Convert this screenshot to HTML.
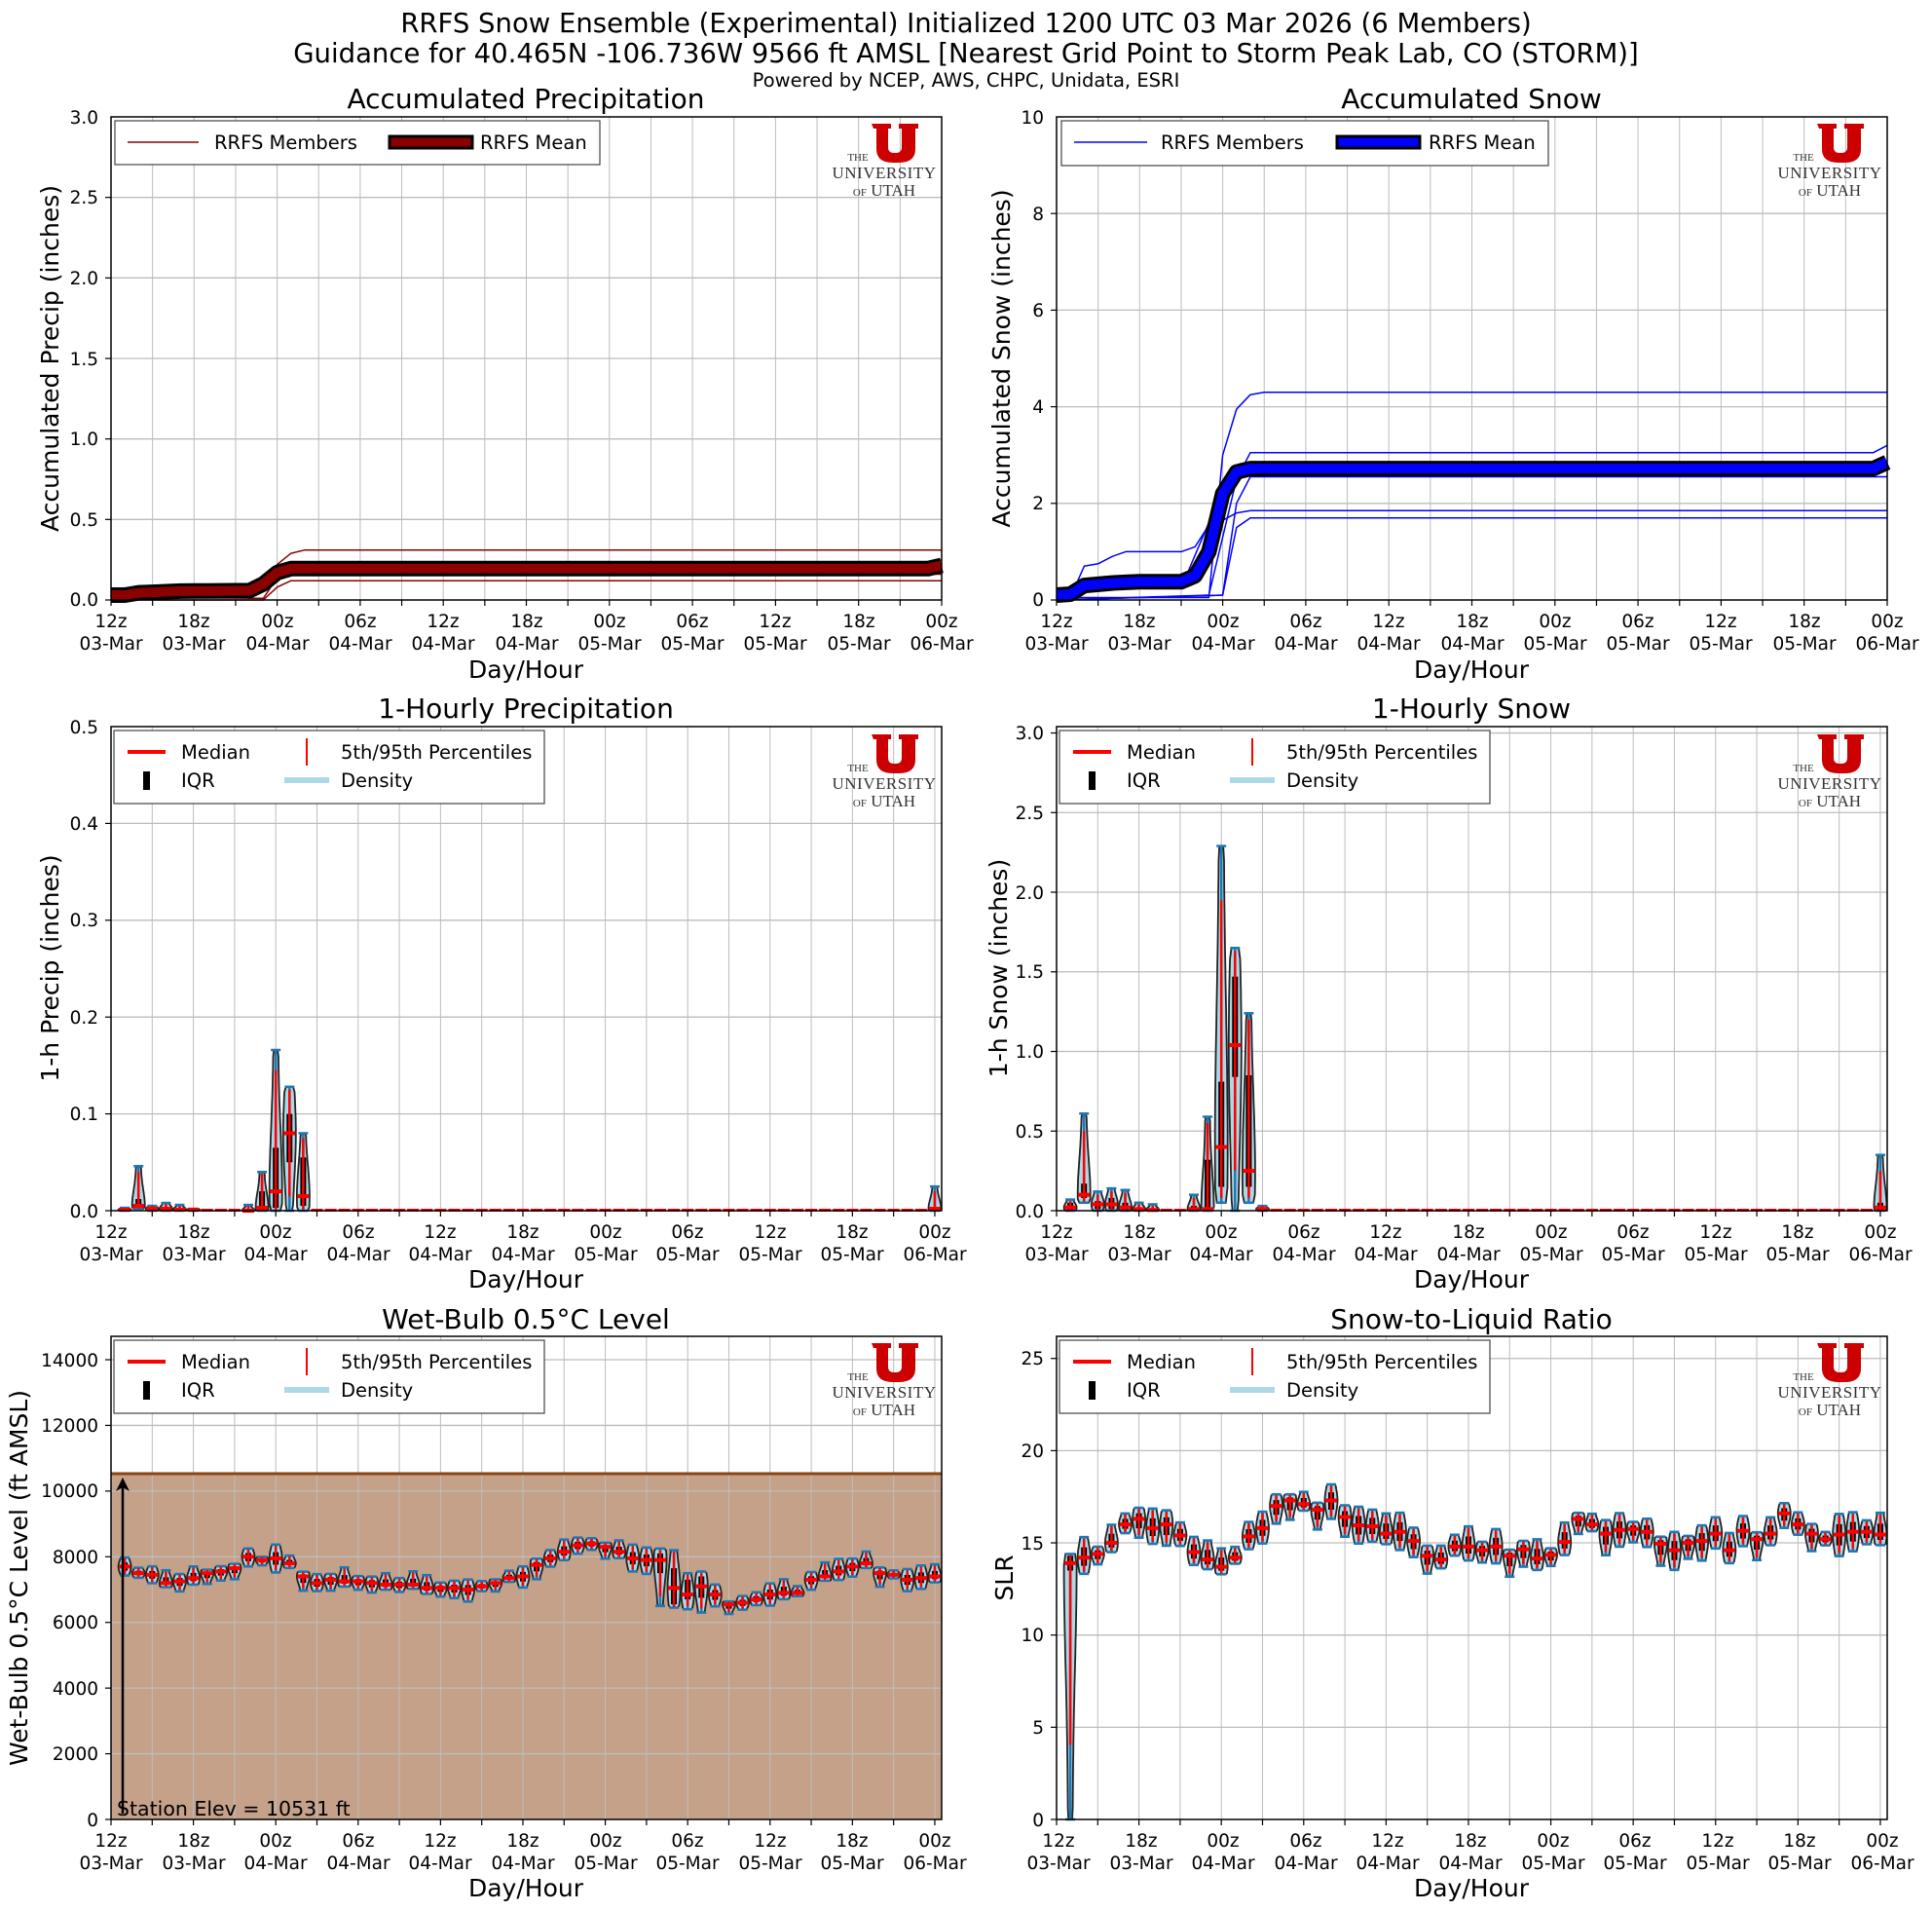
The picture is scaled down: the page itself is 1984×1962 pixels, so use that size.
<!DOCTYPE html>
<html><head><meta charset="utf-8"><style>
html,body{margin:0;padding:0;background:#fff;}
svg{display:block;}
text{font-family:"DejaVu Sans","Liberation Sans",sans-serif;fill:#000;}
.tk{font-size:18.5px;text-anchor:middle;}
.yt{font-size:18.5px;text-anchor:end;}
.ttl{font-size:28px;text-anchor:middle;}
.sup{font-size:27.5px;text-anchor:middle;}
.xl{font-size:25px;text-anchor:middle;}
.lg{font-size:19.5px;}
.lo{font-family:"Liberation Serif","DejaVu Serif",serif;fill:#333;text-anchor:middle;}
</style></head><body>
<svg id="s" width="1984" height="1962" viewBox="0 0 1984 1962" xmlns="http://www.w3.org/2000/svg">
<rect width="1984" height="1962" fill="#fff"/>
<g id="bg"></g><g id="grid"></g><g id="data"></g><g id="frames"></g>

<text class="sup" x="992" y="33">RRFS Snow Ensemble (Experimental) Initialized 1200 UTC 03 Mar 2026 (6 Members)</text>
<text class="sup" x="992" y="64">Guidance for 40.465N -106.736W 9566 ft AMSL [Nearest Grid Point to Storm Peak Lab, CO (STORM)]</text>
<text x="992" y="89" style="font-size:19.5px;text-anchor:middle">Powered by NCEP, AWS, CHPC, Unidata, ESRI</text>

<text class="ttl" x="540" y="111">Accumulated Precipitation</text>
<text class="ttl" x="1511" y="111">Accumulated Snow</text>
<text class="ttl" x="540" y="737">1-Hourly Precipitation</text>
<text class="ttl" x="1511" y="737">1-Hourly Snow</text>
<text class="ttl" x="540" y="1364">Wet-Bulb 0.5°C Level</text>
<text class="ttl" x="1511" y="1364">Snow-to-Liquid Ratio</text>

<text class="xl" x="540" y="696">Day/Hour</text>
<text class="xl" x="1511" y="696">Day/Hour</text>
<text class="xl" x="540" y="1322">Day/Hour</text>
<text class="xl" x="1511" y="1322">Day/Hour</text>
<text class="xl" x="540" y="1947">Day/Hour</text>
<text class="xl" x="1511" y="1947">Day/Hour</text>

<text class="xl" transform="translate(60,368) rotate(-90)">Accumulated Precip (inches)</text>
<text class="xl" transform="translate(1037,368) rotate(-90)">Accumulated Snow (inches)</text>
<text class="xl" transform="translate(60,994) rotate(-90)">1-h Precip (inches)</text>
<text class="xl" transform="translate(1034,994) rotate(-90)">1-h Snow (inches)</text>
<text class="xl" transform="translate(28,1620) rotate(-90)">Wet-Bulb 0.5°C Level (ft AMSL)</text>
<text class="xl" transform="translate(1040,1620) rotate(-90)">SLR</text>

<g>
<text class="yt" x="101" y="622">0.0</text><text class="yt" x="101" y="540">0.5</text><text class="yt" x="101" y="457">1.0</text><text class="yt" x="101" y="375">1.5</text><text class="yt" x="101" y="292">2.0</text><text class="yt" x="101" y="209">2.5</text><text class="yt" x="101" y="127">3.0</text>
<text class="yt" x="1072" y="622">0</text><text class="yt" x="1072" y="523">2</text><text class="yt" x="1072" y="424">4</text><text class="yt" x="1072" y="325">6</text><text class="yt" x="1072" y="226">8</text><text class="yt" x="1072" y="127">10</text>
<text class="yt" x="101" y="1250">0.0</text><text class="yt" x="101" y="1150">0.1</text><text class="yt" x="101" y="1051">0.2</text><text class="yt" x="101" y="951">0.3</text><text class="yt" x="101" y="852">0.4</text><text class="yt" x="101" y="753">0.5</text>
<text class="yt" x="1072" y="1250">0.0</text><text class="yt" x="1072" y="1168">0.5</text><text class="yt" x="1072" y="1086">1.0</text><text class="yt" x="1072" y="1004">1.5</text><text class="yt" x="1072" y="923">2.0</text><text class="yt" x="1072" y="841">2.5</text><text class="yt" x="1072" y="759">3.0</text>
<text class="yt" x="101" y="1875">0</text><text class="yt" x="101" y="1807">2000</text><text class="yt" x="101" y="1740">4000</text><text class="yt" x="101" y="1672">6000</text><text class="yt" x="101" y="1605">8000</text><text class="yt" x="101" y="1537">10000</text><text class="yt" x="101" y="1470">12000</text><text class="yt" x="101" y="1403">14000</text>
<text class="yt" x="1072" y="1875">0</text><text class="yt" x="1072" y="1780">5</text><text class="yt" x="1072" y="1685">10</text><text class="yt" x="1072" y="1591">15</text><text class="yt" x="1072" y="1496">20</text><text class="yt" x="1072" y="1401">25</text>
</g>

<g>
<text class="tk" x="114" y="644">12z</text><text class="tk" x="114" y="667">03-Mar</text>
<text class="tk" x="199" y="644">18z</text><text class="tk" x="199" y="667">03-Mar</text>
<text class="tk" x="285" y="644">00z</text><text class="tk" x="285" y="667">04-Mar</text>
<text class="tk" x="370" y="644">06z</text><text class="tk" x="370" y="667">04-Mar</text>
<text class="tk" x="455" y="644">12z</text><text class="tk" x="455" y="667">04-Mar</text>
<text class="tk" x="541" y="644">18z</text><text class="tk" x="541" y="667">04-Mar</text>
<text class="tk" x="626" y="644">00z</text><text class="tk" x="626" y="667">05-Mar</text>
<text class="tk" x="711" y="644">06z</text><text class="tk" x="711" y="667">05-Mar</text>
<text class="tk" x="796" y="644">12z</text><text class="tk" x="796" y="667">05-Mar</text>
<text class="tk" x="882" y="644">18z</text><text class="tk" x="882" y="667">05-Mar</text>
<text class="tk" x="967" y="644">00z</text><text class="tk" x="967" y="667">06-Mar</text>
</g>
<g transform="translate(971,0)">
<text class="tk" x="114" y="644">12z</text><text class="tk" x="114" y="667">03-Mar</text>
<text class="tk" x="199" y="644">18z</text><text class="tk" x="199" y="667">03-Mar</text>
<text class="tk" x="285" y="644">00z</text><text class="tk" x="285" y="667">04-Mar</text>
<text class="tk" x="370" y="644">06z</text><text class="tk" x="370" y="667">04-Mar</text>
<text class="tk" x="455" y="644">12z</text><text class="tk" x="455" y="667">04-Mar</text>
<text class="tk" x="541" y="644">18z</text><text class="tk" x="541" y="667">04-Mar</text>
<text class="tk" x="626" y="644">00z</text><text class="tk" x="626" y="667">05-Mar</text>
<text class="tk" x="711" y="644">06z</text><text class="tk" x="711" y="667">05-Mar</text>
<text class="tk" x="796" y="644">12z</text><text class="tk" x="796" y="667">05-Mar</text>
<text class="tk" x="882" y="644">18z</text><text class="tk" x="882" y="667">05-Mar</text>
<text class="tk" x="967" y="644">00z</text><text class="tk" x="967" y="667">06-Mar</text>
</g>
<g transform="translate(0,627)">
<text class="tk" x="114" y="644">12z</text><text class="tk" x="114" y="667">03-Mar</text>
<text class="tk" x="199" y="644">18z</text><text class="tk" x="199" y="667">03-Mar</text>
<text class="tk" x="283" y="644">00z</text><text class="tk" x="283" y="667">04-Mar</text>
<text class="tk" x="368" y="644">06z</text><text class="tk" x="368" y="667">04-Mar</text>
<text class="tk" x="452" y="644">12z</text><text class="tk" x="452" y="667">04-Mar</text>
<text class="tk" x="537" y="644">18z</text><text class="tk" x="537" y="667">04-Mar</text>
<text class="tk" x="622" y="644">00z</text><text class="tk" x="622" y="667">05-Mar</text>
<text class="tk" x="706" y="644">06z</text><text class="tk" x="706" y="667">05-Mar</text>
<text class="tk" x="791" y="644">12z</text><text class="tk" x="791" y="667">05-Mar</text>
<text class="tk" x="875" y="644">18z</text><text class="tk" x="875" y="667">05-Mar</text>
<text class="tk" x="960" y="644">00z</text><text class="tk" x="960" y="667">06-Mar</text>
</g>
<g transform="translate(971,627)">
<text class="tk" x="114" y="644">12z</text><text class="tk" x="114" y="667">03-Mar</text>
<text class="tk" x="199" y="644">18z</text><text class="tk" x="199" y="667">03-Mar</text>
<text class="tk" x="283" y="644">00z</text><text class="tk" x="283" y="667">04-Mar</text>
<text class="tk" x="368" y="644">06z</text><text class="tk" x="368" y="667">04-Mar</text>
<text class="tk" x="452" y="644">12z</text><text class="tk" x="452" y="667">04-Mar</text>
<text class="tk" x="537" y="644">18z</text><text class="tk" x="537" y="667">04-Mar</text>
<text class="tk" x="622" y="644">00z</text><text class="tk" x="622" y="667">05-Mar</text>
<text class="tk" x="706" y="644">06z</text><text class="tk" x="706" y="667">05-Mar</text>
<text class="tk" x="791" y="644">12z</text><text class="tk" x="791" y="667">05-Mar</text>
<text class="tk" x="875" y="644">18z</text><text class="tk" x="875" y="667">05-Mar</text>
<text class="tk" x="960" y="644">00z</text><text class="tk" x="960" y="667">06-Mar</text>
</g>
<g transform="translate(0,1252)">
<text class="tk" x="114" y="644">12z</text><text class="tk" x="114" y="667">03-Mar</text>
<text class="tk" x="199" y="644">18z</text><text class="tk" x="199" y="667">03-Mar</text>
<text class="tk" x="283" y="644">00z</text><text class="tk" x="283" y="667">04-Mar</text>
<text class="tk" x="368" y="644">06z</text><text class="tk" x="368" y="667">04-Mar</text>
<text class="tk" x="452" y="644">12z</text><text class="tk" x="452" y="667">04-Mar</text>
<text class="tk" x="537" y="644">18z</text><text class="tk" x="537" y="667">04-Mar</text>
<text class="tk" x="622" y="644">00z</text><text class="tk" x="622" y="667">05-Mar</text>
<text class="tk" x="706" y="644">06z</text><text class="tk" x="706" y="667">05-Mar</text>
<text class="tk" x="791" y="644">12z</text><text class="tk" x="791" y="667">05-Mar</text>
<text class="tk" x="875" y="644">18z</text><text class="tk" x="875" y="667">05-Mar</text>
<text class="tk" x="960" y="644">00z</text><text class="tk" x="960" y="667">06-Mar</text>
</g>
<g transform="translate(971,1252)">
<text class="tk" x="116" y="644">12z</text><text class="tk" x="116" y="667">03-Mar</text>
<text class="tk" x="201" y="644">18z</text><text class="tk" x="201" y="667">03-Mar</text>
<text class="tk" x="285" y="644">00z</text><text class="tk" x="285" y="667">04-Mar</text>
<text class="tk" x="370" y="644">06z</text><text class="tk" x="370" y="667">04-Mar</text>
<text class="tk" x="454" y="644">12z</text><text class="tk" x="454" y="667">04-Mar</text>
<text class="tk" x="539" y="644">18z</text><text class="tk" x="539" y="667">04-Mar</text>
<text class="tk" x="624" y="644">00z</text><text class="tk" x="624" y="667">05-Mar</text>
<text class="tk" x="708" y="644">06z</text><text class="tk" x="708" y="667">05-Mar</text>
<text class="tk" x="793" y="644">12z</text><text class="tk" x="793" y="667">05-Mar</text>
<text class="tk" x="877" y="644">18z</text><text class="tk" x="877" y="667">05-Mar</text>
<text class="tk" x="962" y="644">00z</text><text class="tk" x="962" y="667">06-Mar</text>
</g>

<line x1="126" y1="1862" x2="126" y2="1525" stroke="#000" stroke-width="2.5"/>
<path d="M126,1517 L119,1531 L126,1527 L133,1531 Z" fill="#000"/>
<text x="120" y="1864" style="font-size:20.5px">Station Elev = 10531 ft</text>

<rect x="118" y="124" width="498" height="45" fill="#fff" stroke="#444" stroke-width="1.2"/>
<line x1="131" y1="146" x2="204" y2="146" stroke="#8b0000" stroke-width="1.5"/>
<text class="lg" x="220" y="153">RRFS Members</text>
<rect x="400" y="140" width="85" height="12" fill="#8b0000" stroke="#000" stroke-width="3"/>
<text class="lg" x="493" y="153">RRFS Mean</text>

<rect x="1090" y="124" width="500" height="46" fill="#fff" stroke="#444" stroke-width="1.2"/>
<line x1="1103" y1="146" x2="1178" y2="146" stroke="#0000ff" stroke-width="1.5"/>
<text class="lg" x="1192" y="153">RRFS Members</text>
<rect x="1373" y="140" width="85" height="12" fill="#0000ff" stroke="#000" stroke-width="3"/>
<text class="lg" x="1467" y="153">RRFS Mean</text>

<g id="vleg">
<rect x="117" y="1376" width="442" height="75" fill="#fff" stroke="#444" stroke-width="1.2"/>
<line x1="131" y1="1398" x2="170" y2="1398" stroke="#ff0000" stroke-width="4"/>
<text class="lg" x="186" y="1405">Median</text>
<line x1="315" y1="1384" x2="315" y2="1412" stroke="#ff0000" stroke-width="2"/>
<text class="lg" x="350" y="1405">5th/95th Percentiles</text>
<rect x="147" y="1418" width="7" height="19" fill="#000"/>
<text class="lg" x="186" y="1434">IQR</text>
<line x1="292" y1="1427" x2="338" y2="1427" stroke="#add8e6" stroke-width="6"/>
<text class="lg" x="350" y="1434">Density</text>
</g>
<use href="#vleg" transform="translate(971,0)"/>
<use href="#vleg" transform="translate(0,-626)"/>
<use href="#vleg" transform="translate(971,-626)"/>

<g id="logo" transform="translate(967,120)">
<path d="M-72,7 h20 v5 h-3 v19 q0,6 6,6 h2 q6,0 6,-6 v-19 h-3 v-5 h20 v5 h-3 v21 q0,14 -17,14 h-6 q-17,0 -17,-14 v-21 h-3 z" fill="#cc0000"/>
<text class="lo" x="-86" y="45" style="font-size:11px">THE</text>
<text class="lo" x="-59" y="63" style="font-size:17px;letter-spacing:0.5px">UNIVERSITY</text>
<text class="lo" x="-59" y="81" style="font-size:17px"><tspan style="font-size:11px">OF</tspan> UTAH</text>
</g>
<use href="#logo" transform="translate(971,0)"/>
<use href="#logo" transform="translate(0,627)"/>
<use href="#logo" transform="translate(971,627)"/>
<use href="#logo" transform="translate(0,1252)"/>
<use href="#logo" transform="translate(971,1252)"/>
</svg>
<script>
(function(){
var NS="http://www.w3.org/2000/svg";
function el(g,t,a){var e=document.createElementNS(NS,t);for(var k in a)e.setAttribute(k,a[k]);document.getElementById(g).appendChild(e);return e;}
function P(x0,x1,y0,y1,hmax,vmax,yt){return {x0:x0,x1:x1,y0:y0,y1:y1,X:function(h){return x0+h/hmax*(x1-x0);},Y:function(v){return y1-v/vmax*(y1-y0);},hmax:hmax,yt:yt};}
var TL=P(114,967,120,616,60,3,[0.5,1,1.5,2,2.5]);
var TR=P(1085,1938,120,616,60,10,[2,4,6,8]);
var ML=P(114,967,746,1243,60.5,0.5,[0.1,0.2,0.3,0.4]);
var MR=P(1085,1938,746,1243,60.5,3.04,[0.5,1,1.5,2,2.5,3]);
var BL=P(114,967,1372,1868,60.5,14712,[2000,4000,6000,8000,10000,12000,14000]);
var BR=P(1085,1938,1372,1868,60.5,26.2,[5,10,15,20,25]);
var all=[TL,TR,ML,MR,BL,BR];
el("bg","rect",{x:114,y:BL.Y(10531),width:853,height:1868-BL.Y(10531),fill:"#c5a189"});
all.forEach(function(p){
  for(var h=3;h<=60;h+=3){var x=p.X(h);if(x<p.x1-1)el("grid","line",{x1:x,x2:x,y1:p.y0,y2:p.y1,stroke:"#bdbdbd","stroke-width":1});}
  p.yt.forEach(function(v){var y=p.Y(v);el("grid","line",{x1:p.x0,x2:p.x1,y1:y,y2:y,stroke:"#bdbdbd","stroke-width":1.3});});
  for(var h=0;h<=60;h+=3){var x=p.X(h);el("frames","line",{x1:x,x2:x,y1:p.y1,y2:p.y1+6,stroke:"#000","stroke-width":1.2});}
  [0].concat(p.yt).forEach(function(v){var y=p.Y(v);el("frames","line",{x1:p.x0-6,x2:p.x0,y1:y,y2:y,stroke:"#000","stroke-width":1.2});});
  el("frames","rect",{x:p.x0,y:p.y0,width:p.x1-p.x0,height:p.y1-p.y0,fill:"none",stroke:"#000","stroke-width":1.5});
});
el("data","line",{x1:114,x2:967,y1:BL.Y(10531),y2:BL.Y(10531),stroke:"#8b4513","stroke-width":3});
function interp(pts,h){for(var i=0;i<pts.length-1;i++){if(h>=pts[i][0]&&h<=pts[i+1][0]){var t=(h-pts[i][0])/(pts[i+1][0]-pts[i][0]||1);return pts[i][1]+t*(pts[i+1][1]-pts[i][1]);}}return pts[pts.length-1][1];}
function line(p,pts,c,w){var d="";for(var h=0;h<=60;h++){d+=(h?"L":"M")+p.X(h).toFixed(1)+","+p.Y(interp(pts,h)).toFixed(1);}
  el("data","path",{d:d,fill:"none",stroke:c,"stroke-width":w,"stroke-linejoin":"round"});}
var tm=[[[0,.04],[2,.05],[4,.06],[10,.07],[11,.12],[12,.22],[13,.29],[14,.31],[60,.31]],
[[0,0],[11,0],[12,.08],[13,.12],[60,.12]],
[[0,.03],[10,.05],[12,.17],[13,.2],[60,.2]],
[[0,.02],[10,.04],[11,.12],[12,.2],[13,.22],[59,.22],[60,.25]],
[[0,.02],[11,.01],[12,.14],[13,.16],[60,.16]],
[[0,.03],[10,.06],[12,.18],[13,.21],[60,.21]]];
tm.forEach(function(m){line(TL,m,"#8b0000",1.5);});
var tmean=[[0,.03],[1,.03],[2,.045],[3,.048],[5,.055],[10,.058],[11,.1],[12,.17],[13,.195],[59,.195],[60,.215]];
line(TL,tmean,"#000",16);line(TL,tmean,"#8b0000",10);
var sm=[[[0,.1],[1,.05],[2,.7],[3,.75],[4,.9],[5,1],[9,1],[10,1.1],[11,1.55],[12,1.65],[13,1.8],[14,1.85],[60,1.85]],
[[0,.05],[11,.05],[12,3.0],[13,3.95],[14,4.25],[15,4.3],[60,4.3]],
[[0,0],[11,.1],[13,2.5],[14,3.05],[59,3.05],[60,3.2]],
[[0,0],[12,.1],[13,2.0],[14,2.55],[60,2.55]],
[[0,0],[12,.1],[13,1.5],[14,1.7],[60,1.7]],
[[0,.1],[2,.2],[4,.25],[9,.25],[11,1.6],[12,2.2],[13,2.7],[60,2.7]]];
sm.forEach(function(m){line(TR,m,"#0000ff",1.5);});
var smean=[[0,.1],[1,.12],[2,.3],[4,.35],[6,.38],[9,.38],[10,.5],[11,1.0],[12,2.2],[13,2.65],[14,2.72],[59,2.72],[60,2.85]];
line(TR,smean,"#000",16);line(TR,smean,"#0000ff",10);
function violin(p,h,d){
  var mn=d[0],q1=d[1],md=d[2],q3=d[3],p95=d[4],mx=d[5];var x=p.X(h);
  var ymin=p.Y(mn),ymax=p.Y(mx);
  if(ymin-ymax<1.2){el("data","rect",{x:x-6,y:p.Y(md)-2,width:12,height:3,fill:"#ff0000"});return;}
  var W=6.5,n=24,s=(mx-mn)*0.55,L=[],R=[];
  for(var i=0;i<=n;i++){var v=mn+(mx-mn)*i/n;var w=W*(0.35+0.65*Math.exp(-Math.pow((v-md)/s,2)));
    if(i==0||i==n)w*=0.75;var y=p.Y(v);L.push((x-w).toFixed(1)+","+y.toFixed(1));R.unshift((x+w).toFixed(1)+","+y.toFixed(1));}
  el("data","path",{d:"M"+L.join("L")+"L"+R.join("L")+"Z",fill:"#add8e6",stroke:"#222","stroke-width":1.8});
  el("data","line",{x1:x,x2:x,y1:ymin,y2:ymax,stroke:"#1f77b4","stroke-width":2.5});
  el("data","line",{x1:x-5,x2:x+5,y1:ymin,y2:ymin,stroke:"#1f77b4","stroke-width":2.5});
  el("data","line",{x1:x-5,x2:x+5,y1:ymax,y2:ymax,stroke:"#1f77b4","stroke-width":2.5});
  el("data","rect",{x:x-3,y:p.Y(q3),width:6,height:Math.max(0.5,p.Y(q1)-p.Y(q3)),fill:"#000"});
  var p5=mn+(q1-mn)*0.3;
  el("data","line",{x1:x,x2:x,y1:p.Y(p5),y2:p.Y(p95),stroke:"#ff0000","stroke-width":2.5});
  el("data","rect",{x:x-6,y:p.Y(md)-2,width:12,height:4,fill:"#ff0000"});
}
var mld={1:[0,0,.001,.002,.003,.003],2:[.002,.003,.005,.012,.04,.046],3:[0,0,.002,.003,.005,.005],4:[0,0,.002,.004,.007,.008],5:[0,0,.001,.002,.005,.006],6:[0,0,.001,.001,.002,.002],7:[0,0,0,.001,.001,.001],10:[0,0,0,.001,.005,.006],11:[0,.001,.003,.02,.038,.04],12:[0,.003,.02,.065,.145,.166],13:[0,.05,.08,.1,.125,.128],14:[0,.005,.015,.055,.075,.08],15:[0,0,0,.001,.001,.001],60:[0,0,.002,.004,.02,.025]};
var mrd={1:[0,.005,.02,.05,.06,.07],2:[.05,.08,.1,.17,.5,.61],3:[0,.01,.04,.06,.1,.12],4:[0,.01,.04,.08,.12,.14],5:[0,0,.02,.05,.11,.13],6:[0,0,.01,.02,.04,.05],7:[0,0,.005,.01,.03,.04],10:[0,0,.01,.03,.08,.1],11:[0,.01,.01,.32,.55,.59],12:[.05,.15,.4,.81,1.95,2.29],13:[0,.84,1.04,1.47,1.63,1.65],14:[.05,.15,.25,.85,1.2,1.24],15:[0,0,.01,.02,.03,.03],60:[0,0,.02,.05,.25,.35]};
for(var h=1;h<=60;h++){violin(ML,h,mld[h]||[0,0,0,0,0,0]);violin(MR,h,mrd[h]||[0,0,0,0,0,0]);}
var seed=7;function rnd(){seed=(seed*9301+49297)%233280;return seed/233280;}
var blm=[7700,7500,7450,7200,7250,7350,7500,7550,7650,8000,7900,7950,7800,7400,7200,7300,7250,7250,7200,7150,7150,7150,7050,7050,7050,7000,7100,7200,7350,7400,7750,7950,8150,8350,8400,8300,8150,7950,7900,7050,6800,7100,7000,6850,6550,6600,6700,6850,6900,6900,7300,7400,7550,7700,7800,7500,7450,7300,7350,7400];
var blsp={40:[6500,7500,7900,8100,8200,8250],41:[6450,6550,7050,7650,8150,8200],42:[6400,6700,6850,7300,7450,7500],43:[6300,6750,7100,7400,7500,7550]};
for(var h=1;h<=60;h++){var m=blm[h-1];var d=blsp[h];
  if(!d){var lo=100+rnd()*350,hi=80+rnd()*350;d=[m-lo,m-lo*0.45,m,m+hi*0.45,m+hi*0.9,m+hi];}
  violin(BL,h,d);}
var brm=[13.9,14.2,14.4,15.0,16.0,16.3,15.8,16.0,15.4,14.5,14.1,13.7,14.2,15.35,15.8,17.0,17.3,17.1,16.8,17.3,16.4,15.95,15.9,15.5,15.6,15.1,14.3,14.1,14.8,14.8,14.6,14.8,14.3,14.65,14.15,14.35,15.05,16.3,16.0,15.5,15.7,15.75,15.6,14.95,14.6,15.0,15.1,15.5,14.6,15.65,15.2,15.5,16.6,16.0,15.5,15.2,15.45,15.6,15.6,15.45];
seed=11;
for(var h=1;h<=60;h++){var m=brm[h-1];var d;
  if(h==1)d=[0,13.5,13.9,14.3,14.3,14.4];
  else{var lo=0.3+rnd()*0.9,hi=0.3+rnd()*0.9;d=[m-lo,m-lo*0.5,m,m+hi*0.5,m+hi*0.9,m+hi];}
  violin(BR,h,d);}
})();
</script>
</body></html>
